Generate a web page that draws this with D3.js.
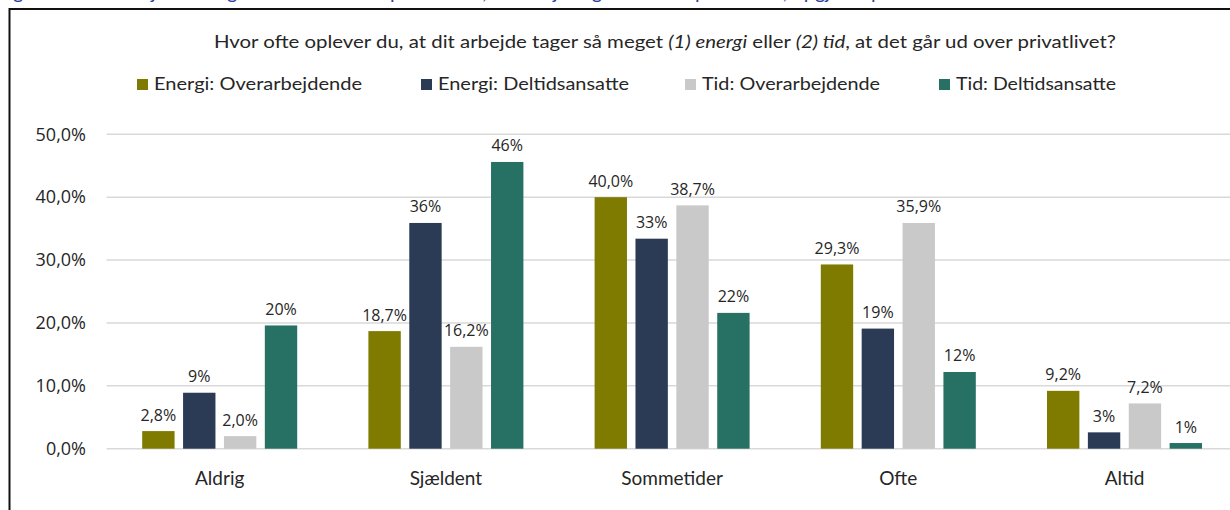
<!DOCTYPE html>
<html>
<head>
<meta charset="utf-8">
<script src="https://cdn.jsdelivr.net/npm/d3@7"></script>
<style>
  html, body { margin: 0; padding: 0; background: #fff; }
  svg { display: block; }
</style>
</head>
<body>
<svg id="chart"></svg>
<script>
// data
const categories = ['Aldrig', 'Sjældent', 'Sommetider', 'Ofte', 'Altid'];
const seriesNames = ['Energi: Overarbejdende', 'Energi: Deltidsansatte', 'Tid: Overarbejdende', 'Tid: Deltidsansatte'];
const energiOverarbejdende = [2.8, 18.7, 40.0, 29.3, 9.2];
const energiDeltidsansatte = [8.9, 35.9, 33.4, 19.1, 2.6];
const tidOverarbejdende = [2.0, 16.2, 38.7, 35.9, 7.2];
const tidDeltidsansatte = [19.6, 45.6, 21.6, 12.2, 0.9];
const labelDecimals = [1, 0, 1, 0];
const yTicks = [0, 10, 20, 30, 40, 50];
const colors = ['#7f7a00', '#2b3a55', '#c9c9c9', '#267164'];

const seriesValues = [energiOverarbejdende, energiDeltidsansatte, tidOverarbejdende, tidDeltidsansatte];

// drawing constants
const W = 1230;
const H = 510;
const NARROW = 'Lato, "Liberation Sans Narrow", sans-serif';
const WIDE = '"Open Sans", "DejaVu Sans", sans-serif';

const da = d3.formatLocale({ decimal: ',', thousands: '.', grouping: [3], currency: ['', ' kr.'] });
const fmt = [da.format('.1f'), da.format('.0f')];

const svg = d3.select('#chart')
  .attr('width', W)
  .attr('height', H);

svg.append('rect').attr('width', W).attr('height', H).attr('fill', '#fff');

// cut-off caption above the frame (only descenders visible)
svg.append('text')
  .attr('x', -3)
  .attr('y', -1)
  .attr('font-family', NARROW)
  .attr('font-size', 20)
  .attr('fill', '#2e3f9a')
  .text('Figur 6: Overarbejdende og deltidsansattes oplevelse af, at arbejdet går ud over privatlivet, opgjort i pct.');

// frame
svg.append('path')
  .attr('d', `M9.5,${H} V9 H${W}`)
  .attr('fill', 'none')
  .attr('stroke', '#111')
  .attr('stroke-width', 2);

// scales
const x0 = d3.scaleBand().domain(categories).range([106.6, 1237.6]);
const x1 = d3.scaleBand().domain(seriesNames).range([35.6, 190.6]).paddingInner(0.208);
const y = d3.scaleLinear().domain([0, 50]).range([448.7, 134.3]);

// gridlines
svg.append('g')
  .selectAll('line')
  .data(yTicks)
  .join('line')
  .attr('x1', 106.6)
  .attr('x2', W)
  .attr('y1', d => y(d))
  .attr('y2', d => y(d))
  .attr('stroke', '#d9d9d9')
  .attr('stroke-width', 1.4);

// y labels
svg.append('g')
  .selectAll('text')
  .data(yTicks)
  .join('text')
  .attr('x', 86)
  .attr('y', d => y(d) + 6.3)
  .attr('text-anchor', 'end')
  .attr('font-family', WIDE)
  .attr('font-size', 18)
  .attr('fill', '#262626')
  .text(d => da.format('.1f')(d) + '%');

// bars + labels
seriesNames.forEach((name, s) => {
  const g = svg.append('g');
  const rows = categories.map((c, i) => ({ c, v: seriesValues[s][i] }));
  g.selectAll('rect')
    .data(rows)
    .join('rect')
    .attr('x', d => x0(d.c) + x1(name))
    .attr('y', d => y(d.v))
    .attr('width', x1.bandwidth())
    .attr('height', d => y(0) - y(d.v))
    .attr('fill', colors[s]);
  g.selectAll('text')
    .data(rows)
    .join('text')
    .attr('x', d => x0(d.c) + x1(name) + x1.bandwidth() / 2)
    .attr('y', d => y(d.v) - 10.5)
    .attr('text-anchor', 'middle')
    .attr('font-family', WIDE)
    .attr('font-size', 16)
    .attr('fill', '#262626')
    .text(d => (labelDecimals[s] === 1 ? fmt[0] : fmt[1])(d.v) + '%');
});

// category labels
svg.append('g')
  .selectAll('text')
  .data(categories)
  .join('text')
  .attr('x', d => x0(d) + x0.bandwidth() / 2)
  .attr('y', 485)
  .attr('text-anchor', 'middle')
  .attr('font-family', NARROW)
  .attr('font-size', 19)
  .attr('fill', '#262626')
  .text(d => d);

// title
const title = svg.append('text')
  .attr('x', 665)
  .attr('y', 48)
  .attr('text-anchor', 'middle')
  .attr('font-family', NARROW)
  .attr('font-size', 17.5)
  .attr('fill', '#262626')
  .attr('textLength', 902)
  .attr('lengthAdjust', 'spacingAndGlyphs');
[['Hvor ofte oplever du, at dit arbejde tager så meget ', false],
 ['(1) energi', true],
 [' eller ', false],
 ['(2) tid', true],
 [', at det går ud over privatlivet?', false]].forEach(([t, it]) => {
  title.append('tspan').attr('font-style', it ? 'italic' : 'normal').text(t);
});

// legend
const legendSquareX = [137, 421, 685, 939];
const legendTextW = [208, 191, 178, 160];
const legend = svg.append('g');
seriesNames.forEach((name, s) => {
  legend.append('rect')
    .attr('x', legendSquareX[s])
    .attr('y', 79)
    .attr('width', 11)
    .attr('height', 11)
    .attr('fill', colors[s]);
  legend.append('text')
    .attr('x', legendSquareX[s] + 17)
    .attr('y', 90)
    .attr('font-family', NARROW)
    .attr('font-size', 17.5)
    .attr('fill', '#262626')
    .attr('textLength', legendTextW[s])
    .attr('lengthAdjust', 'spacingAndGlyphs')
    .text(name);
});
</script>
</body>
</html>
